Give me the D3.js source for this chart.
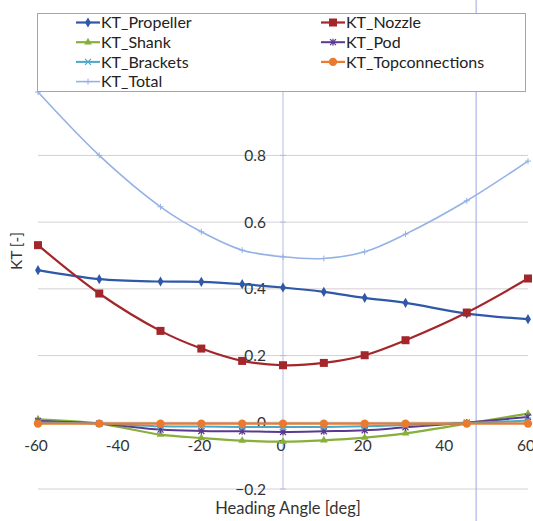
<!DOCTYPE html>
<html>
<head>
<meta charset="utf-8">
<script src="https://cdn.jsdelivr.net/npm/d3@7"></script>
<style>
  html, body { margin: 0; padding: 0; background: #fff; }
  svg { display: block; font-family: Lato, "Open Sans", sans-serif; }
</style>
</head>
<body>
<div id="chart"></div>
<script>
const angles = [-60, -45, -30, -20, -10, 0, 10, 20, 30, 45, 60];
const ktPropeller = [0.456, 0.429, 0.422, 0.421, 0.414, 0.404, 0.391, 0.373, 0.358, 0.326, 0.309];
const ktNozzle = [0.531, 0.386, 0.274, 0.221, 0.184, 0.171, 0.178, 0.201, 0.246, 0.329, 0.431];
const ktShank = [0.009, -0.004, -0.037, -0.047, -0.055, -0.058, -0.054, -0.046, -0.033, -0.004, 0.026];
const ktPod = [0.004, -0.004, -0.022, -0.026, -0.027, -0.029, -0.027, -0.024, -0.015, -0.001, 0.016];
const ktBrackets = [-0.001, -0.004, -0.012, -0.013, -0.014, -0.014, -0.014, -0.012, -0.008, -0.002, 0.005];
const ktTopconnections = [-0.004, -0.004, -0.004, -0.004, -0.004, -0.004, -0.004, -0.004, -0.004, -0.004, -0.004];
const ktTotal = [0.99, 0.80, 0.646, 0.571, 0.516, 0.496, 0.491, 0.511, 0.564, 0.664, 0.783];
const xTicks = [-60, -40, -20, 0, 20, 40, 60];
const yTicks = [-0.2, 0, 0.2, 0.4, 0.6, 0.8];
const gridTicks = [-0.2, 0.2, 0.4, 0.6, 0.8];
const markerLine = 47.3;

const series = [
  { name: 'KT_Propeller', values: ktPropeller, color: '#2f58a8', marker: 'diamond', width: 2.2 },
  { name: 'KT_Nozzle', values: ktNozzle, color: '#a3262a', marker: 'square', width: 2.2 },
  { name: 'KT_Shank', values: ktShank, color: '#86b03a', marker: 'triangle', width: 2.2 },
  { name: 'KT_Pod', values: ktPod, color: '#5a3a8e', marker: 'star', width: 2 },
  { name: 'KT_Brackets', values: ktBrackets, color: '#4aa8c8', marker: 'x', width: 2 },
  { name: 'KT_Topconnections', values: ktTopconnections, color: '#ea7a2e', marker: 'circle', width: 2.2 },
  { name: 'KT_Total', values: ktTotal, color: '#94b2e6', marker: 'plus', width: 1.6 },
];

const width = 533;
const height = 521;
const svg = d3.select('#chart').append('svg').attr('width', width).attr('height', height);

const x = d3.scaleLinear().domain([-60, 60]).range([38, 528]);
const y = d3.scaleLinear().domain([-0.2, 1.0]).range([489, 88.7]);

// gridlines
svg.append('g').selectAll('line').data(gridTicks).join('line')
  .attr('x1', x(-60)).attr('x2', x(60))
  .attr('y1', (d) => y(d)).attr('y2', (d) => y(d))
  .attr('stroke', '#d6cfd4').attr('stroke-width', 1);

// y axis crossing at 0 deg
svg.append('line')
  .attr('x1', x(0)).attr('x2', x(0)).attr('y1', y(1.0)).attr('y2', y(-0.2))
  .attr('stroke', '#b4bde0').attr('stroke-width', 1);
svg.append('g').selectAll('line').data(yTicks).join('line')
  .attr('x1', x(0) - 3).attr('x2', x(0) + 3)
  .attr('y1', (d) => y(d)).attr('y2', (d) => y(d))
  .attr('stroke', '#b4bde0');

// x axis line at 0
svg.append('line')
  .attr('x1', x(-60)).attr('x2', x(60)).attr('y1', y(0)).attr('y2', y(0))
  .attr('stroke', '#b8b8b8').attr('stroke-width', 1);

// long vertical marker line
svg.append('line')
  .attr('x1', x(markerLine)).attr('x2', x(markerLine)).attr('y1', 0).attr('y2', height)
  .attr('stroke', '#a9b8e6').attr('stroke-width', 1.2);

// tick labels
svg.append('g').selectAll('text').data(yTicks).join('text')
  .attr('x', x(0) - 17).attr('y', (d) => y(d) + 5.5)
  .attr('text-anchor', 'end').attr('font-size', 15.5).attr('fill', '#333')
  .text((d) => d3.format('~g')(d));
svg.append('g').selectAll('text').data(xTicks).join('text')
  .attr('x', (d) => x(d) - 2).attr('y', 451)
  .attr('text-anchor', 'middle').attr('font-size', 15.5).attr('fill', '#333')
  .text((d) => d);

svg.append('text').attr('x', 288).attr('y', 514).attr('text-anchor', 'middle')
  .attr('font-size', 16.5).attr('fill', '#333').text('Heading Angle [deg]');
svg.append('text').attr('transform', 'translate(22,251) rotate(-90)').attr('text-anchor', 'middle')
  .attr('font-size', 15.5).attr('fill', '#333').text('KT [-]');

function drawMarker(sel, kind, color) {
  if (kind === 'circle') sel.append('circle').attr('r', 4.2).attr('fill', color);
  else if (kind === 'square') sel.append('rect').attr('x', -4).attr('y', -4).attr('width', 8).attr('height', 8).attr('fill', color);
  else if (kind === 'diamond') sel.append('path').attr('d', d3.symbol(d3.symbolDiamond, 30)()).attr('fill', color);
  else if (kind === 'triangle') sel.append('path').attr('d', d3.symbol(d3.symbolTriangle, 26)()).attr('fill', color);
  else if (kind === 'x') sel.append('path').attr('d', 'M-3,-3L3,3M-3,3L3,-3').attr('stroke', color).attr('stroke-width', 1.2);
  else if (kind === 'star') sel.append('path').attr('d', 'M-3,-3L3,3M-3,3L3,-3M0,-3.5L0,3.5').attr('stroke', color).attr('stroke-width', 1.2);
  else if (kind === 'plus') sel.append('path').attr('d', 'M-3,0L3,0M0,-3L0,3').attr('stroke', color).attr('stroke-width', 1);
}

const line = d3.line().x((d) => x(d[0])).y((d) => y(d[1])).curve(d3.curveCatmullRom.alpha(0.5));

series.forEach((s) => {
  const pts = angles.map((a, i) => [a, s.values[i]]);
  const g = svg.append('g');
  g.append('path').datum(pts).attr('d', line)
    .attr('fill', 'none').attr('stroke', s.color).attr('stroke-width', s.width);
  g.selectAll('g').data(pts).join('g')
    .attr('transform', (d) => `translate(${x(d[0])},${y(d[1])})`)
    .each(function () { drawMarker(d3.select(this), s.marker, s.color); });
});

// legend
const legend = svg.append('g');
legend.append('rect').attr('x', 37.5).attr('y', 13.5).attr('width', 488).attr('height', 78)
  .attr('fill', '#fff').attr('stroke', '#a6a6a6');
series.forEach((s, i) => {
  const col = i === 6 ? 0 : i % 2;
  const row = Math.floor(i / 2);
  const lx = col === 0 ? 76 : 321;
  const ly = 22.5 + row * 19.7;
  const g = legend.append('g');
  g.append('line').attr('x1', lx).attr('x2', lx + 24).attr('y1', ly).attr('y2', ly)
    .attr('stroke', s.color).attr('stroke-width', s.width);
  const m = g.append('g').attr('transform', `translate(${lx + 12},${ly})`);
  drawMarker(m, s.marker, s.color);
  g.append('text').attr('x', lx + 25).attr('y', ly + 5.8).attr('font-size', 16).attr('fill', '#222').text(s.name);
});
</script>
</body>
</html>
